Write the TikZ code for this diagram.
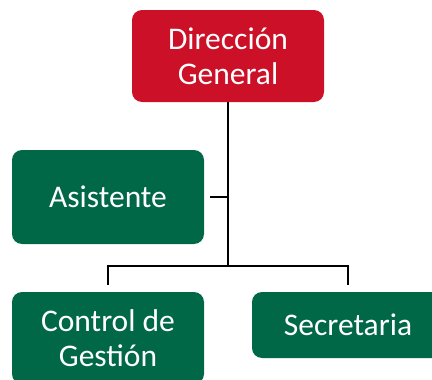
\documentclass[tikz,border=0pt]{standalone}
\usepackage{fontspec}
\setmainfont{Carlito}
\definecolor{dgred}{RGB}{204,16,40}
\definecolor{dggreen}{RGB}{0,104,71}
\begin{document}
\begin{tikzpicture}[x=1pt,y=-1pt,
  box/.style={rounded corners=10pt, text=white, minimum width=192pt, inner sep=0pt,
    align=center, font=\fontsize{31.5}{35}\selectfont},
  link/.style={line width=2.5pt, draw=black}]
\useasboundingbox (0,0) rectangle (432,380);
\node[box, fill=dgred, minimum height=92pt] (dg) at (228,56) {Dirección\\General};
\node[box, fill=dggreen, minimum height=94pt] (as) at (108,197) {Asistente};
\node[box, fill=dggreen, minimum height=92pt] (cg) at (108,338) {Control de\\Gestión};
\node[box, fill=dggreen, minimum height=66pt] (se) at (348,325) {Secretaria};
\coordinate (j) at (228,266);
\draw[link] (dg.south) -- (j);
\draw[link] ([xshift=6pt]as.east) -- (as.east -| j);
\draw[link] ([yshift=7pt]cg.north) -- (cg.north |- j) -- (se.north |- j) -- ([yshift=7pt]se.north);
\end{tikzpicture}
\end{document}
